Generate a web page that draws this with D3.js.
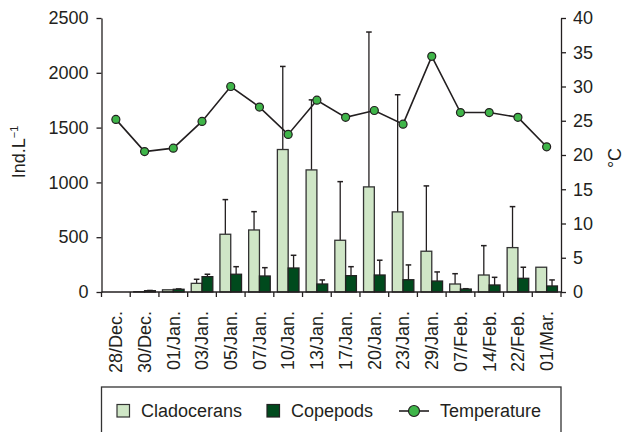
<!DOCTYPE html>
<html>
<head>
<meta charset="utf-8">
<script src="https://cdn.jsdelivr.net/npm/d3@7"></script>
<style>
    body { margin: 0; background: #fff; }
    svg text { font-family: "Liberation Sans", Arial, sans-serif; fill: #231f20; }
</style>
</head>
<body>
<div id="chart"></div>
<script>
// sampling dates
const dates = ["28/Dec.", "30/Dec.", "01/Jan.", "03/Jan.", "05/Jan.", "07/Jan.", "10/Jan.", "13/Jan.",
    "17/Jan.", "20/Jan.", "23/Jan.", "29/Jan.", "07/Feb.", "14/Feb.", "22/Feb.", "01/Mar."];

// densities (Ind.L-1) and upper error bar tops
const cladocerans = [0, 3, 20, 79, 527, 566, 1300, 1114, 472, 959, 731, 372, 73, 155, 405, 226];
const cladoceransErr = [0, 0, 0, 116, 843, 733, 2058, 1753, 1007, 2372, 1800, 968, 167, 423, 779, 226];
const copepods = [0, 12, 25, 140, 162, 146, 219, 73, 149, 155, 112, 100, 27, 64, 125, 55];
const copepodsErr = [0, 14, 28, 162, 231, 222, 335, 110, 231, 290, 247, 183, 30, 134, 226, 110];

// temperature (°C)
const temperature = [25.2, 20.5, 21.0, 24.9, 30.0, 27.0, 23.0, 28.0, 25.5, 26.5, 24.5, 34.4, 26.2, 26.2, 25.5, 21.2];

const leftTicks = [0, 500, 1000, 1500, 2000, 2500];
const rightTicks = [0, 5, 10, 15, 20, 25, 30, 35, 40];

const colClad = "#cfe6c6", colCop = "#004a1d", colTemp = "#3fb549", colLine = "#231f20";

const W = 629, H = 432;
const plot = {left: 101.5, right: 561, top: 18, bottom: 292};

const svg = d3.select("#chart").append("svg")
    .attr("width", W)
    .attr("height", H);

// scales
const x = d3.scaleBand().domain(dates).range([plot.left, plot.right]);
const xSub = d3.scaleBand().domain(["clad", "cop"]).range([0, x.bandwidth()])
    .paddingInner(0).paddingOuter(0.33);
const yL = d3.scaleLinear().domain([0, 2500]).range([plot.bottom, plot.top]);
const yR = d3.scaleLinear().domain([0, 40]).range([plot.bottom, plot.top]);

const rows = dates.map((d, i) => ({
    date: d,
    clad: cladocerans[i], cladErr: cladoceransErr[i],
    cop: copepods[i], copErr: copepodsErr[i],
    temp: temperature[i]
}));

// error bars (drawn first so bars sit on top)
const errG = svg.append("g");
const series = [
    {key: "clad", val: d => d.clad, err: d => d.cladErr},
    {key: "cop", val: d => d.cop, err: d => d.copErr}
];
series.forEach(s => {
    const data = rows.filter(d => s.err(d) > s.val(d));
    const cx = d => x(d.date) + xSub(s.key) + xSub.bandwidth() / 2;
    errG.selectAll(".err-" + s.key).data(data).enter().append("line")
        .attr("x1", cx).attr("x2", cx)
        .attr("y1", d => yL(s.val(d))).attr("y2", d => yL(s.err(d)))
        .attr("stroke", colLine).attr("stroke-width", 1.3);
    errG.selectAll(".cap-" + s.key).data(data).enter().append("line")
        .attr("x1", d => cx(d) - 2.8).attr("x2", d => cx(d) + 2.8)
        .attr("y1", d => yL(s.err(d))).attr("y2", d => yL(s.err(d)))
        .attr("stroke", colLine).attr("stroke-width", 1.5);
});

// bars
const barG = svg.append("g");
barG.selectAll(".clad").data(rows.filter(d => d.clad > 0)).enter().append("rect")
    .attr("x", d => x(d.date) + xSub("clad"))
    .attr("y", d => yL(d.clad))
    .attr("width", xSub.bandwidth())
    .attr("height", d => yL(0) - yL(d.clad))
    .attr("fill", colClad).attr("stroke", "#333").attr("stroke-width", 1.3);
barG.selectAll(".cop").data(rows.filter(d => d.cop > 0)).enter().append("rect")
    .attr("x", d => x(d.date) + xSub("cop"))
    .attr("y", d => yL(d.cop))
    .attr("width", xSub.bandwidth())
    .attr("height", d => yL(0) - yL(d.cop))
    .attr("fill", colCop).attr("stroke", "#222").attr("stroke-width", 1.3);

// left axis
const axL = svg.append("g")
    .attr("transform", "translate(" + plot.left + ",0)")
    .call(d3.axisLeft(yL).tickValues(leftTicks).tickFormat(d3.format("d"))
        .tickSizeInner(5).tickSizeOuter(0).tickPadding(8));
// right axis
const axR = svg.append("g")
    .attr("transform", "translate(" + plot.right + ",0)")
    .call(d3.axisRight(yR).tickValues(rightTicks).tickFormat(d3.format("d"))
        .tickSizeInner(5).tickSizeOuter(0).tickPadding(7));
[axL, axR].forEach(a => {
    a.selectAll("path, line").attr("stroke", colLine).attr("stroke-width", 1.3);
    a.selectAll("text").style("font-size", "18px").attr("fill", "#231f20");
});

// bottom axis: ticks at category boundaries
const xG = svg.append("g");
xG.append("line")
    .attr("x1", plot.left).attr("x2", plot.right)
    .attr("y1", plot.bottom).attr("y2", plot.bottom)
    .attr("stroke", colLine).attr("stroke-width", 1.3);
const bounds = dates.map(d => x(d)).concat([x.range()[1]]);
xG.selectAll(".xtick").data(bounds).enter().append("line")
    .attr("x1", d => d).attr("x2", d => d)
    .attr("y1", plot.bottom).attr("y2", plot.bottom + 5)
    .attr("stroke", colLine).attr("stroke-width", 1.3);
xG.selectAll(".xlab").data(dates).enter().append("text")
    .attr("transform", d => "translate(" + (x(d) + x.bandwidth() / 2) + "," + (plot.bottom + 19) + ") rotate(-90)")
    .attr("dy", "0.35em")
    .attr("text-anchor", "end")
    .style("font-size", "18px")
    .text(d => d);

// temperature line
const line = d3.line()
    .x(d => x(d.date) + x.bandwidth() / 2)
    .y(d => yR(d.temp));
svg.append("path")
    .datum(rows)
    .attr("d", line)
    .attr("fill", "none")
    .attr("stroke", colLine)
    .attr("stroke-width", 1.6);
svg.selectAll(".tpt").data(rows).enter().append("circle")
    .attr("cx", d => x(d.date) + x.bandwidth() / 2)
    .attr("cy", d => yR(d.temp))
    .attr("r", 4)
    .attr("fill", colTemp)
    .attr("stroke", colLine)
    .attr("stroke-width", 1.2);

// axis titles
svg.append("text")
    .attr("transform", "translate(25,152) rotate(-90)")
    .attr("text-anchor", "middle")
    .style("font-size", "18px")
    .html('Ind.L<tspan dy="-7" font-size="11">\u22121</tspan>');
svg.append("text")
    .attr("transform", "translate(621,158) rotate(-90)")
    .attr("text-anchor", "middle")
    .style("font-size", "18px")
    .text("\u00B0C");

// legend
const lg = svg.append("g");
lg.append("rect")
    .attr("x", plot.left).attr("y", 387)
    .attr("width", plot.right - plot.left).attr("height", 70)
    .attr("fill", "none").attr("stroke", "#333").attr("stroke-width", 1.3);
lg.append("rect").attr("x", 117).attr("y", 404.5).attr("width", 12.5).attr("height", 12.5)
    .attr("fill", colClad).attr("stroke", "#333").attr("stroke-width", 1.2);
lg.append("text").attr("x", 141).attr("y", 417).style("font-size", "18px").text("Cladocerans");
lg.append("rect").attr("x", 267).attr("y", 404.5).attr("width", 12.5).attr("height", 12.5)
    .attr("fill", colCop).attr("stroke", "#222").attr("stroke-width", 1.2);
lg.append("text").attr("x", 291).attr("y", 417).style("font-size", "18px").text("Copepods");
lg.append("line").attr("x1", 399).attr("x2", 429).attr("y1", 411).attr("y2", 411)
    .attr("stroke", colLine).attr("stroke-width", 1.6);
lg.append("circle").attr("cx", 414).attr("cy", 411).attr("r", 5.5)
    .attr("fill", colTemp).attr("stroke", colLine).attr("stroke-width", 1.2);
lg.append("text").attr("x", 440).attr("y", 417).style("font-size", "18px").text("Temperature");
</script>
</body>
</html>
